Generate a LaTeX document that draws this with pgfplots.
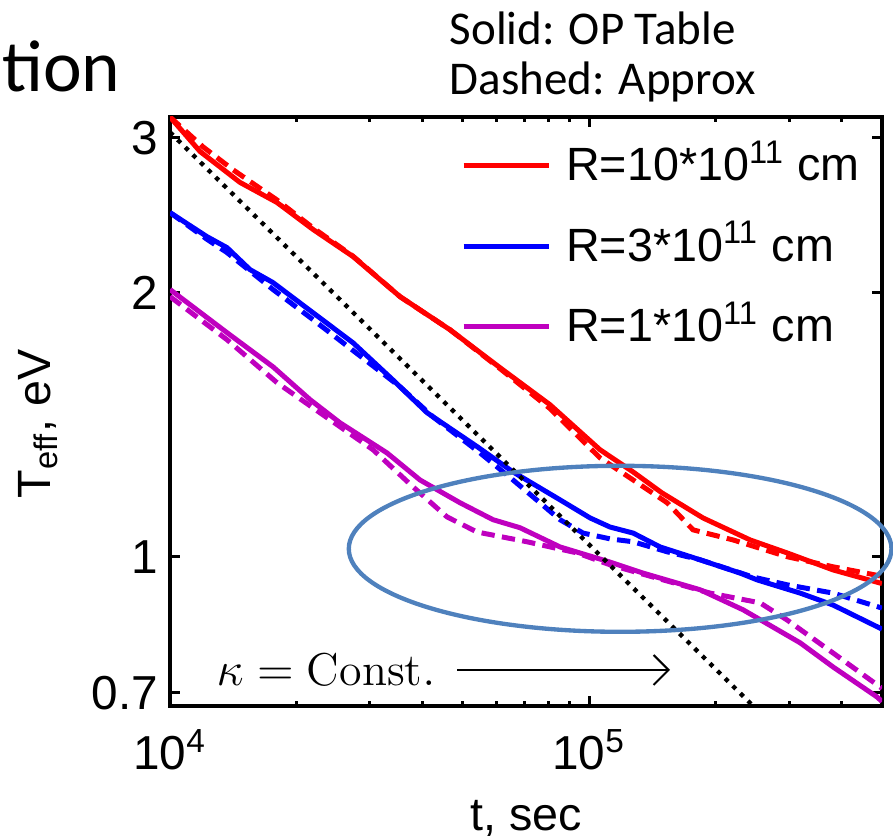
\documentclass[border=0pt]{standalone}
\usepackage{fontspec}
\setsansfont{Liberation Sans}
\newfontfamily\calibri{Carlito}
\usepackage{pgfplots}
\pgfplotsset{compat=1.18}
\usetikzlibrary{arrows.meta}

\definecolor{mred}{rgb}{1,0,0}
\definecolor{mblue}{rgb}{0,0,1}
\definecolor{mmag}{rgb}{0.75,0,0.75}
\definecolor{ellc}{RGB}{79,129,189}

\begin{document}
\begin{tikzpicture}
\path[use as bounding box] (-51pt,-39.3pt) rectangle (216.9pt,211.8pt);
\begin{axis}[
    scale only axis, width=213.6pt, height=176.7pt,
    xmode=log, ymode=log,
    xmin=1e4, xmax=5e5, ymin=0.676, ymax=3.17,
    xtick={1e4,1e5}, xticklabels={10\textsuperscript{4},10\textsuperscript{5}},
    minor xtick={2e4,3e4,4e4,5e4,6e4,7e4,8e4,9e4,2e5,3e5,4e5},
    ytick={0.7,1,2,3}, yticklabels={0.7,1,2,3},
    minor ytick={},
    axis line style={line width=1.2pt},
    major tick length=3pt, minor tick length=1.6pt,
    every tick/.append style={black, line width=0.9pt},
    tick label style={font=\sffamily\fontsize{14.3}{16}\selectfont},
    xticklabel style={yshift=-3.5pt},
    label style={font=\sffamily\fontsize{14}{16}\selectfont},
    xlabel={t, sec}, ylabel={T\textsubscript{eff}, eV},
    xlabel style={at={(axis description cs:0.5,-0.19)}, anchor=center},
    ylabel style={at={(axis description cs:-0.185,0.479)}, anchor=center},
    clip mode=individual,
    legend style={draw=none, fill=none, font=\sffamily\fontsize{14}{16}\selectfont,
        at={(axis description cs:0.408,0.955)}, anchor=north west,
        inner sep=0pt, row sep=11.1pt, column sep=4.5pt,
        nodes={text height=11pt, text depth=2pt, inner ysep=0pt, inner xsep=0pt}},
    legend cell align=left,
    legend image code/.code={\draw[#1, line width=1.5pt] (0pt,0pt) -- (25.5pt,0pt);},
]
% solid: OP table
\addplot[mred, line width=1.5pt] coordinates {(1e4,3.17) (1.179e4,2.896) (1.469e4,2.670) (1.8e4,2.533) (2.194e4,2.360) (2.734e4,2.198) (3.539e4,1.979) (4.659e4,1.814) (6.131e4,1.642) (8.069e4,1.490) (1.062e5,1.324) (1.274e5,1.249) (1.494e5,1.182) (1.871e5,1.107) (2.423e5,1.045) (2.969e5,1.010) (3.821e5,0.966) (5e5,0.932)};
\addlegendentry{R=10*10\textsuperscript{11} cm}
\addplot[mblue, line width=1.5pt] coordinates {(1e4,2.467) (1.225e4,2.316) (1.368e4,2.250) (1.552e4,2.124) (1.761e4,2.053) (2.194e4,1.897) (2.734e4,1.753) (3.4e4,1.591) (4.106e4,1.459) (5.404e4,1.335) (6.586e4,1.249) (8.524e4,1.161) (1.006e5,1.107) (1.122e5,1.081) (1.274e5,1.064) (1.477e5,1.026) (1.840e5,0.992) (2.293e5,0.958) (2.518e5,0.941) (3.189e5,0.909) (3.821e5,0.881) (5e5,0.827)};
\addlegendentry{R=3*10\textsuperscript{11} cm}
\addplot[mmag, line width=1.5pt] coordinates {(1e4,2.016) (1.368e4,1.800) (1.761e4,1.646) (2.159e4,1.510) (2.545e4,1.421) (3.295e4,1.313) (3.951e4,1.223) (4.922e4,1.152) (5.9e4,1.102) (6.844e4,1.079) (8.524e4,1.026) (1.122e5,0.986) (1.345e5,0.958) (1.840e5,0.917) (2.331e5,0.870) (3.189e5,0.798) (3.821e5,0.749) (4.869e5,0.692) (5e5,0.684)};
\addlegendentry{R=1*10\textsuperscript{11} cm}
% dashed: approx
\addplot[mred, line width=1.5pt, dash pattern=on 4pt off 2.2pt, forget plot] coordinates {(1e4,3.17) (1.2e4,2.93) (1.414e4,2.76) (1.8e4,2.55) (2.194e4,2.37) (2.734e4,2.20) (3.539e4,1.979) (4.659e4,1.814) (6.131e4,1.638) (8.069e4,1.475) (1.062e5,1.296) (1.274e5,1.223) (1.536e5,1.152) (1.771e5,1.073) (2.207e5,1.045) (2.969e5,1.0) (3.821e5,0.974) (5e5,0.950)};
\addplot[mblue, line width=1.5pt, dash pattern=on 4pt off 2.2pt, forget plot] coordinates {(1e4,2.467) (1.225e4,2.30) (1.368e4,2.221) (1.761e4,2.016) (2.194e4,1.863) (3.539e4,1.562) (4.244e4,1.443) (5.494e4,1.313) (6.586e4,1.223) (8.524e4,1.102) (9.676e4,1.064) (1.122e5,1.048) (1.274e5,1.040) (1.536e5,1.013) (1.840e5,0.992) (2.463e5,0.948) (2.969e5,0.929) (3.821e5,0.909) (5e5,0.874)};
\addplot[mmag, line width=1.5pt, dash pattern=on 4pt off 2.2pt, forget plot] coordinates {(1e4,1.979) (1.368e4,1.767) (1.8e4,1.579) (2.28e4,1.459) (3.051e4,1.324) (3.802e4,1.201) (4.583e4,1.110) (5.404e4,1.067) (7.112e4,1.040) (9.363e4,1.010) (1.122e5,0.979) (1.4e5,0.95) (1.945e5,0.909) (2.559e5,0.886) (2.969e5,0.847) (3.821e5,0.777) (5e5,0.708)};
% kappa = const. slope
\addplot[black, line width=1.3pt, dash pattern=on 1.3pt off 1.9pt, forget plot] coordinates {(1e4,3.045) (2.463e5,0.676)};
\draw[ellc, line width=1.3pt] (axis cs:1.186e5,1.021) ellipse [x radius=81.4pt, y radius=24.9pt];
\end{axis}
\node[anchor=west, inner sep=0pt, font=\fontsize{13.8}{15}\selectfont] at (13.8pt,10.8pt) {$\kappa = \mathrm{Const.}$};
\draw[line width=0.6pt, -{Straight Barb[length=4.5pt,width=9pt]}] (86.1pt,10.8pt) -- (150pt,10.8pt);
\node[anchor=base west, inner sep=0pt, font=\calibri\fontsize{22}{26}\selectfont] at (-50.5pt,184.2pt) {tion};
\node[anchor=base west, inner sep=0pt, font=\calibri\fontsize{14.1}{16}\selectfont] at (83.7pt,198.3pt) {Solid: OP Table};
\node[anchor=base west, inner sep=0pt, font=\calibri\fontsize{14.1}{16}\selectfont] at (83.7pt,183.3pt) {Dashed: Approx};
\end{tikzpicture}
\end{document}
